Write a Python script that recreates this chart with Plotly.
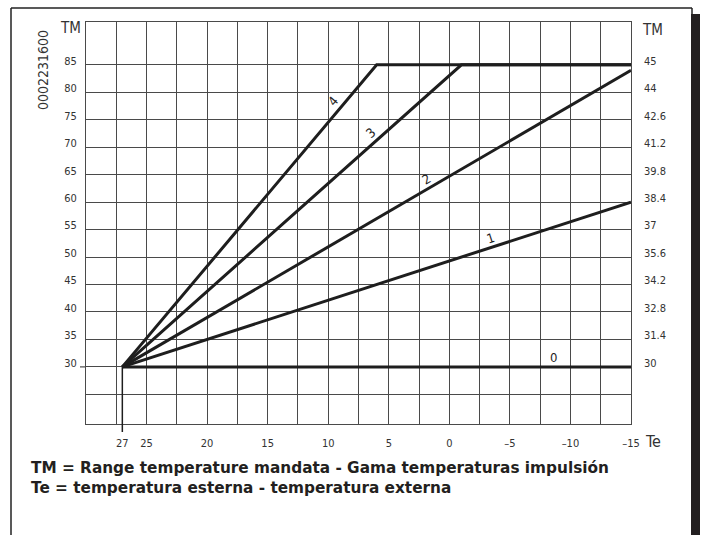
import math
import plotly.graph_objects as go

# ---- data -------------------------------------------------------------
# Outdoor temperature Te (deg C) and flow temperature TM (deg C) break points
curve0_te = [27, -15]
curve0_tm = [30, 30]
curve1_te = [27, -15]
curve1_tm = [30, 60]
curve2_te = [27, -15]
curve2_tm = [30, 84]
curve3_te = [27, -1, -15]
curve3_tm = [30, 85, 85]
curve4_te = [27, 6, -15]
curve4_tm = [30, 85, 85]

curve_names = ["0", "1", "2", "3", "4"]
# label anchor points on each curve (Te, TM)
label_te = [-8.6, -3.4, 1.9, 6.55, 9.6]
label_tm = [31.7, 53.4, 64.05, 72.55, 78.25]

x_tick_vals = [27, 25, 20, 15, 10, 5, 0, -5, -10, -15]
x_tick_text = ["27", "25", "20", "15", "10", "5", "0", "\u20135", "\u201310", "\u201315"]

y_tick_vals = [25, 30, 35, 40, 45, 50, 55, 60, 65, 70, 75, 80, 85]
y_left_text = ["", "30", "35", "40", "45", "50", "55", "60", "65", "70", "75", "80", "85"]
y_right_text = ["", "30", "31.4", "32.8", "34.2", "35.6", "37", "38.4", "39.8",
                "41.2", "42.6", "44", "45"]

code_label = "0002231600"
legend_lines = [
    "TM = Range temperature mandata - Gama temperaturas impulsión",
    "Te = temperatura esterna - temperatura externa",
]

# ---- layout geometry ---------------------------------------------------
W, H = 705, 535
L, R, T, B = 86, 631, 22, 424          # plot area in pixels
X_RANGE = [30, -15]
Y_RANGE = [19.6, 92.8]

TICK_FONT = "Liberation Sans Narrow, DejaVu Sans Condensed, Arial Narrow, sans-serif"
INK = "#1e1e1e"
GRID = "#4a4a4a"


def px(xp):
    return (xp - L) / (R - L)


def py(yp):
    return (B - yp) / (B - T)


def y_paper(v):
    return (v - Y_RANGE[0]) / (Y_RANGE[1] - Y_RANGE[0])


fig = go.Figure()

curves = [
    (curve0_te, curve0_tm),
    (curve1_te, curve1_tm),
    (curve2_te, curve2_tm),
    (curve3_te, curve3_tm),
    (curve4_te, curve4_tm),
]
for name, (te, tm) in zip(curve_names, curves):
    fig.add_trace(go.Scatter(
        x=te, y=tm, mode="lines", name=name,
        line=dict(color=INK, width=3),
        hoverinfo="x+y", showlegend=False, cliponaxis=False,
    ))

# invisible trace so the right-hand axis is drawn
fig.add_trace(go.Scatter(x=[27], y=[30], yaxis="y2", mode="markers",
                         marker=dict(opacity=0), showlegend=False, hoverinfo="skip"))

# curve number labels, rotated along each line
for name, te, tm, (xs, ys) in zip(curve_names, label_te, label_tm, curves):
    # angle of the first segment in screen pixels
    dx = (xs[1] - xs[0]) / (X_RANGE[1] - X_RANGE[0]) * (R - L)
    dy = (ys[1] - ys[0]) / (Y_RANGE[1] - Y_RANGE[0]) * (B - T)
    ang = -math.degrees(math.atan2(dy, dx)) if dy else 0
    fig.add_annotation(x=te, y=tm, xref="x", yref="y", text=name, showarrow=False,
                       textangle=ang, font=dict(family=TICK_FONT, size=13, color=INK),
                       xanchor="center", yanchor="middle")


def label(xp, yp, text, size, angle=0):
    fig.add_annotation(x=px(xp), y=py(yp), xref="paper", yref="paper", text=text,
                       showarrow=False, textangle=angle,
                       xanchor="center", yanchor="middle",
                       font=dict(family=TICK_FONT, size=size, color="#333"))


# axis title labels and drawing code
label(70, 28, "TM", 15)
label(652, 30, "TM", 15)
label(653, 441, "Te", 16)
label(43, 70, code_label, 14, -90)

# explanatory text below the chart
for i, line in enumerate(legend_lines):
    fig.add_annotation(x=px(29), y=py(468 + 20 * i), xref="paper", yref="paper",
                       text="<b>" + line + "</b>", showarrow=False,
                       xanchor="left", yanchor="middle",
                       font=dict(family="DejaVu Sans, sans-serif",
                                 size=15.3, color="#231f20"))

shapes = [
    # page frame: top, left, right stub
    dict(type="line", xref="paper", yref="paper", x0=px(11), x1=px(692), y0=py(8), y1=py(8),
         line=dict(color="#222", width=1.5)),
    dict(type="line", xref="paper", yref="paper", x0=px(11), x1=px(11), y0=py(8), y1=py(540),
         line=dict(color="#222", width=1.5)),
    dict(type="line", xref="paper", yref="paper", x0=px(692), x1=px(692), y0=py(8), y1=py(14),
         line=dict(color="#222", width=1.5)),
    # dark edge bar on the right
    dict(type="rect", xref="paper", yref="paper", x0=px(691), x1=px(700), y0=py(14), y1=py(540),
         fillcolor="#231f20", line=dict(width=0)),
    # vertical marker at Te = 27 reaching below the grid
    dict(type="line", xref="x", yref="paper", x0=27, x1=27, y0=y_paper(30), y1=py(432),
         line=dict(color=INK, width=1.5)),
    # short extension of the 30 line toward its label
    dict(type="line", xref="paper", yref="y", x0=px(80), x1=0, y0=30, y1=30,
         line=dict(color=GRID, width=1.2)),
]
fig.update_layout(shapes=shapes)

fig.update_layout(
    width=W, height=H,
    margin=dict(l=L, r=W - R, t=T, b=H - B, pad=0),
    paper_bgcolor="white", plot_bgcolor="white",
    showlegend=False,
    xaxis=dict(
        range=X_RANGE, tickmode="array", tickvals=x_tick_vals, ticktext=x_tick_text,
        showgrid=False, zeroline=False, ticks="",
        showline=True, mirror=True, linecolor=GRID, linewidth=1,
        minor=dict(dtick=2.5, tick0=0, showgrid=True, gridcolor=GRID, gridwidth=1),
        tickfont=dict(family=TICK_FONT, size=11, color="#333"),
        ticklabelstandoff=9,
    ),
    yaxis=dict(
        range=Y_RANGE, tickmode="array", tickvals=y_tick_vals, ticktext=y_left_text,
        showgrid=True, gridcolor=GRID, gridwidth=1, zeroline=False, ticks="",
        showline=True, mirror=True, linecolor=GRID, linewidth=1,
        tickfont=dict(family=TICK_FONT, size=11, color="#333"),
        ticklabelstandoff=6, ticklabelshift=-4,
    ),
    yaxis2=dict(
        range=Y_RANGE, overlaying="y", side="right", tickmode="array",
        tickvals=y_tick_vals, ticktext=y_right_text,
        showgrid=False, zeroline=False, ticks="", showline=False,
        tickfont=dict(family=TICK_FONT, size=11, color="#333"),
        ticklabelstandoff=12, ticklabelshift=-4,
    ),
)

fig.write_html("out.html")
